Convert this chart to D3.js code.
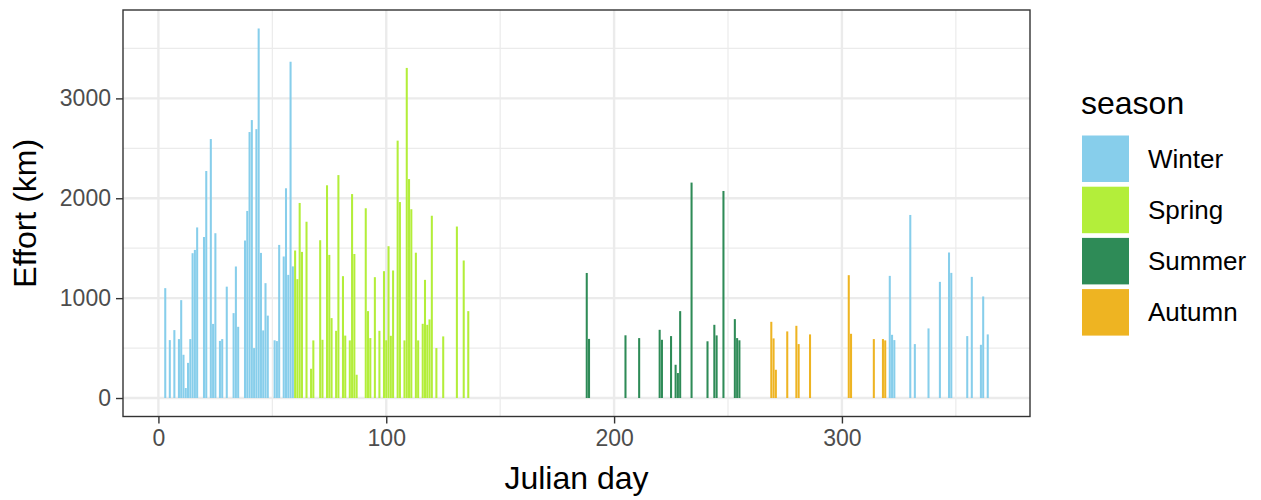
<!DOCTYPE html>
<html>
<head>
<meta charset="utf-8">
<script src="https://cdn.jsdelivr.net/npm/d3@7"></script>
<style>
  body { margin: 0; background: #fff; }
  text { font-family: "Liberation Sans", Arial, sans-serif; }
</style>
</head>
<body>
<svg id="chart" width="1261" height="500"></svg>
<script>
// Daily survey effort (km) by Julian day, grouped by season
const seasons = ["Winter", "Spring", "Summer", "Autumn"];
const seasonColors = ["#87CEEB", "#B3EE3A", "#2E8B57", "#EEB422"];

const winterDays = [3, 5, 7, 9, 10, 11, 12, 13, 14, 15, 16, 17, 20, 21, 23, 24, 25, 27, 28, 30,
  33, 34, 35, 38, 39, 40, 41, 42, 43, 44, 45, 46, 47, 48, 51, 52, 53, 55, 56, 57, 58, 59,
  321, 322, 323, 330, 332, 338, 343, 347, 348, 355, 357, 361, 362, 364];
const winterEffort = [1100, 580, 680, 590, 980, 433, 100, 352, 590, 1450, 1483, 1708, 1612, 2273, 2593, 742, 1650, 572, 590, 1115,
  850, 1317, 713, 1577, 1873, 2663, 2783, 500, 2692, 3700, 1453, 677, 1150, 825, 578, 570, 1533, 1417, 2100, 1233, 3367, 1318,
  1223, 633, 580, 1833, 540, 697, 1163, 1457, 1253, 620, 1213, 533, 1017, 637];

const springDays = [60, 61, 62, 63, 65, 67, 68, 71, 72, 74, 75, 76, 78, 79, 81, 82, 84, 85, 86, 87,
  91, 92, 93, 95, 97, 99, 100, 101, 102, 103, 105, 106, 108, 109, 110, 111, 113, 114, 116, 117,
  118, 119, 120, 122, 125, 131, 134, 136];
const springEffort = [1477, 1190, 1953, 1463, 1765, 293, 577, 1580, 583, 2130, 1433, 800, 673, 2232, 1220, 625, 577, 2042, 1442, 233,
  1900, 870, 600, 1210, 673, 1270, 578, 1520, 623, 1277, 2577, 1962, 577, 3305, 2192, 1890, 1455, 577, 743, 1183,
  733, 787, 1825, 500, 617, 1717, 1377, 870];

const summerDays = [188, 189, 205, 211, 220, 221, 225, 227, 228, 229, 234, 241, 244, 245, 248, 253, 254, 255];
const summerEffort = [1252, 592, 628, 600, 683, 583, 620, 333, 250, 870, 2157, 568, 733, 627, 2073, 790, 600, 578];

const autumnDays = [269, 270, 271, 276, 280, 281, 286, 303, 304, 314, 318, 319];
const autumnEffort = [763, 597, 283, 667, 723, 540, 637, 1230, 643, 590, 590, 577];

const xTicks = [0, 100, 200, 300];
const xMinor = [50, 150, 250, 350];
const yTicks = [0, 1000, 2000, 3000];
const yMinor = [500, 1500, 2500, 3500];

const bars = [];
[[winterDays, winterEffort, "Winter"], [springDays, springEffort, "Spring"],
 [summerDays, summerEffort, "Summer"], [autumnDays, autumnEffort, "Autumn"]]
  .forEach(([ds, vs, s]) => ds.forEach((d, i) => bars.push({ day: d, effort: vs[i], season: s })));

const barWidth = 0.9;
const panel = { left: 123, right: 1030, top: 10, bottom: 416.5 };

// Continuous scales with 5% padding on each side of the data range
const xLo = d3.min(bars, d => d.day) - barWidth / 2;
const xHi = d3.max(bars, d => d.day) + barWidth / 2;
const xPad = (xHi - xLo) * 0.05;
const x = d3.scaleLinear().domain([xLo - xPad, xHi + xPad]).range([panel.left, panel.right]);

const yHi = d3.max(bars, d => d.effort);
const yPad = yHi * 0.05;
const y = d3.scaleLinear().domain([-yPad, yHi + yPad]).range([panel.bottom, panel.top]);

const color = d3.scaleOrdinal().domain(seasons).range(seasonColors);

const svg = d3.select("#chart");

// Panel background and grid
svg.append("rect").attr("x", panel.left).attr("y", panel.top)
  .attr("width", panel.right - panel.left).attr("height", panel.bottom - panel.top)
  .attr("fill", "#fff");

const grid = svg.append("g");
grid.selectAll(".ymin").data(yMinor).join("line")
  .attr("x1", panel.left).attr("x2", panel.right)
  .attr("y1", d => y(d)).attr("y2", d => y(d))
  .attr("stroke", "#EBEBEB").attr("stroke-width", 1.2);
grid.selectAll(".xmin").data(xMinor).join("line")
  .attr("y1", panel.top).attr("y2", panel.bottom)
  .attr("x1", d => x(d)).attr("x2", d => x(d))
  .attr("stroke", "#EBEBEB").attr("stroke-width", 1.2);
grid.selectAll(".ymaj").data(yTicks).join("line")
  .attr("x1", panel.left).attr("x2", panel.right)
  .attr("y1", d => y(d)).attr("y2", d => y(d))
  .attr("stroke", "#EBEBEB").attr("stroke-width", 2.4);
grid.selectAll(".xmaj").data(xTicks).join("line")
  .attr("y1", panel.top).attr("y2", panel.bottom)
  .attr("x1", d => x(d)).attr("x2", d => x(d))
  .attr("stroke", "#EBEBEB").attr("stroke-width", 2.4);

// Bars
svg.append("g").selectAll("rect").data(bars).join("rect")
  .attr("x", d => x(d.day - barWidth / 2))
  .attr("width", d => x(d.day + barWidth / 2) - x(d.day - barWidth / 2))
  .attr("y", d => y(d.effort))
  .attr("height", d => y(0) - y(d.effort))
  .attr("fill", d => color(d.season));

// Panel border
svg.append("rect").attr("x", panel.left).attr("y", panel.top)
  .attr("width", panel.right - panel.left).attr("height", panel.bottom - panel.top)
  .attr("fill", "none").attr("stroke", "#333333").attr("stroke-width", 1.4);

// Axes
const fmt = d3.format("d");
const xAxis = svg.append("g").attr("transform", `translate(0,${panel.bottom})`)
  .call(d3.axisBottom(x).tickValues(xTicks).tickFormat(fmt).tickSize(7).tickPadding(6));
const yAxis = svg.append("g").attr("transform", `translate(${panel.left},0)`)
  .call(d3.axisLeft(y).tickValues(yTicks).tickFormat(fmt).tickSize(7).tickPadding(5));
[xAxis, yAxis].forEach(a => {
  a.select(".domain").remove();
  a.selectAll(".tick line").attr("stroke", "#333333").attr("stroke-width", 1.4);
  a.selectAll(".tick text").attr("fill", "#4D4D4D")
    .style("font-family", '"Liberation Sans", Arial, sans-serif').style("font-size", "23px");
});

// Axis titles
svg.append("text").attr("x", (panel.left + panel.right) / 2).attr("y", 489)
  .attr("text-anchor", "middle").attr("font-size", 32).attr("fill", "#000").text("Julian day");
svg.append("text").attr("transform", `translate(36,${(panel.top + panel.bottom) / 2}) rotate(-90)`)
  .attr("text-anchor", "middle").attr("font-size", 32).attr("fill", "#000").text("Effort (km)");

// Legend
const legend = svg.append("g").attr("transform", "translate(1081,0)");
legend.append("text").attr("x", 0).attr("y", 114).attr("font-size", 32).attr("fill", "#000").text("season");
const keys = legend.selectAll(".key").data(seasons).join("g")
  .attr("transform", (d, i) => `translate(0,${135.5 + i * 51.2})`);
keys.append("rect").attr("x", 1).attr("y", 0).attr("width", 47).attr("height", 46.5)
  .attr("fill", d => color(d));
keys.append("text").attr("x", 67).attr("y", 23).attr("dy", "0.35em")
  .attr("font-size", 26).attr("fill", "#000").text(d => d);
</script>
</body>
</html>
